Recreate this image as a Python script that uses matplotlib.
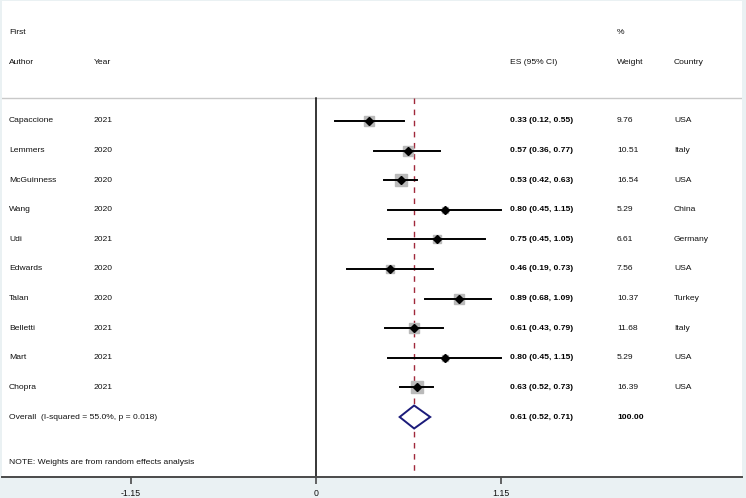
import matplotlib
matplotlib.use("Agg")
import matplotlib.pyplot as plt
from matplotlib.transforms import blended_transform_factory
import numpy as np

plt.rcParams['font.family'] = ['Liberation Sans', 'DejaVu Sans']

authors = ["Capaccione", "Lemmers", "McGuinness", "Wang", "Udi", "Edwards",
           "Talan", "Belletti", "Mart", "Chopra"]
years = ["2021", "2020", "2020", "2020", "2021", "2020", "2020", "2021", "2021", "2021"]
es = [0.33, 0.57, 0.53, 0.80, 0.75, 0.46, 0.89, 0.61, 0.80, 0.63]
ci_low = [0.12, 0.36, 0.42, 0.45, 0.45, 0.19, 0.68, 0.43, 0.45, 0.52]
ci_high = [0.55, 0.77, 0.63, 1.15, 1.05, 0.73, 1.09, 0.79, 1.15, 0.73]
weights = [9.76, 10.51, 16.54, 5.29, 6.61, 7.56, 10.37, 11.68, 5.29, 16.39]
countries = ["USA", "Italy", "USA", "China", "Germany", "USA", "Turkey", "Italy", "USA", "USA"]
overall_es, overall_lo, overall_hi = 0.61, 0.52, 0.71
overall_label = "Overall  (I-squared = 55.0%, p = 0.018)"
xticks = [-1.15, 0, 1.15]
xtick_labels = ["-1.15", "0", "1.15"]

W, H = 746, 498
fig = plt.figure(figsize=(W / 100, H / 100), dpi=100)
fig.patch.set_facecolor('#eaf1f3')
ax = fig.add_axes([2 / W, (H - 477) / H, 740 / W, 476 / H])
ax.set_facecolor('white')

scale = 185 / 1.15  # px per unit
ax.set_xlim((2 - 316) / scale, (742 - 316) / scale)
row_h = 29.6
ax.set_ylim((477 - 121) / row_h, (1 - 121) / row_h)

for s in ['top', 'left', 'right']:
    ax.spines[s].set_visible(False)
ax.spines['bottom'].set_color('#4a4a4a')
ax.spines['bottom'].set_linewidth(1.4)
ax.set_yticks([])
ax.set_xticks(xticks)
ax.set_xticklabels(xtick_labels)
ax.tick_params(axis='x', direction='out', length=5, width=1.2, color='#4a4a4a',
               labelsize=6.3, labelcolor='#111111', pad=3.5)

n = len(authors)
rows = np.arange(n)
top_line_y = (98 - 121) / row_h
bottom_y = (477 - 121) / row_h

ax.axhline(top_line_y, color='#c9c9c9', lw=1.0)
ax.plot([0, 0], [top_line_y, bottom_y], color='black', lw=1.1)
ax.plot([overall_es, overall_es], [top_line_y, bottom_y], color='#a0283a',
        lw=1.0, ls=(0, (4, 4)))

for i in range(n):
    ax.plot([ci_low[i], ci_high[i]], [rows[i], rows[i]], color='black', lw=1.4, zorder=3)
    ax.plot(es[i], rows[i], marker='s', color='#bababa', mec='#bababa',
            markersize=8.8 * np.sqrt(weights[i] / 16.54), zorder=2)
    ax.plot(es[i], rows[i], marker='D', color='black', markersize=3.8, zorder=4)

oy = n
dh = 11.5 / row_h
ax.fill([overall_lo, overall_es, overall_hi, overall_es, overall_lo],
        [oy, oy - dh, oy, oy + dh, oy], facecolor='white', edgecolor='#1b1b7a',
        lw=1.4, zorder=4)

tr = blended_transform_factory(ax.transAxes, ax.transData)
def colx(px):
    return (px - 2) / 740

fs = 6.1
tc = '#111111'
hdr1 = (32 - 121) / row_h
hdr2 = (62 - 121) / row_h
ax.text(colx(9), hdr1, "First", transform=tr, fontsize=fs, va='center', color=tc)
ax.text(colx(9), hdr2, "Author", transform=tr, fontsize=fs, va='center', color=tc)
ax.text(colx(94), hdr2, "Year", transform=tr, fontsize=fs, va='center', color=tc)
ax.text(colx(510), hdr2, "ES (95% CI)", transform=tr, fontsize=fs, va='center', color=tc)
ax.text(colx(617), hdr1, "%", transform=tr, fontsize=fs, va='center', color=tc)
ax.text(colx(617), hdr2, "Weight", transform=tr, fontsize=fs, va='center', color=tc)
ax.text(colx(674), hdr2, "Country", transform=tr, fontsize=fs, va='center', color=tc)

for i in range(n):
    y = rows[i]
    ax.text(colx(9), y, authors[i], transform=tr, fontsize=fs, va='center', color=tc)
    ax.text(colx(94), y, years[i], transform=tr, fontsize=fs, va='center', color=tc)
    ax.text(colx(510), y, f"{es[i]:.2f} ({ci_low[i]:.2f}, {ci_high[i]:.2f})",
            transform=tr, fontsize=fs, va='center', color='black', fontweight='bold')
    ax.text(colx(617), y, f"{weights[i]:.2f}", transform=tr, fontsize=fs,
            va='center', color=tc)
    ax.text(colx(674), y, countries[i], transform=tr, fontsize=fs, va='center', color=tc)

ax.text(colx(9), oy, overall_label, transform=tr, fontsize=fs, va='center', color=tc)
ax.text(colx(510), oy, f"{overall_es:.2f} ({overall_lo:.2f}, {overall_hi:.2f})",
        transform=tr, fontsize=fs, va='center', color='black', fontweight='bold')
ax.text(colx(617), oy, "100.00", transform=tr, fontsize=fs, va='center',
        color='black', fontweight='bold')
ax.text(colx(9), (463 - 121) / row_h, "NOTE: Weights are from random effects analysis",
        transform=tr, fontsize=fs, va='center', color=tc)

fig.savefig("out.png", dpi=100, facecolor=fig.get_facecolor())
